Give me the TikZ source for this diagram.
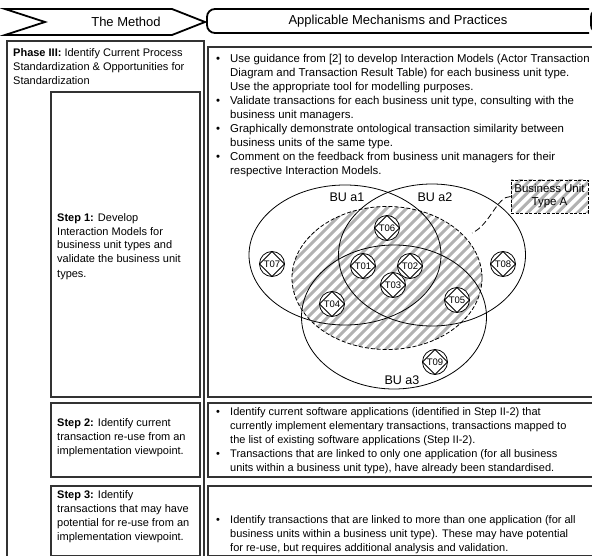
\documentclass[tikz,border=0pt]{standalone}
\usepackage{fontspec}
\setmainfont{Liberation Sans}
\usetikzlibrary{shapes.geometric}
% one left-aligned block of lines, and a block of bulleted lines
\newcommand\txtblock[1]{\begin{tabular}{@{}l@{}}#1\end{tabular}}
\newcommand\bulblock[1]{\begin{tabular}{@{}p{14pt}@{}l@{}}#1\end{tabular}}
\begin{document}
\begin{tikzpicture}[x=1pt,y=-1pt,
  frame/.style={draw=black!80, line width=1.1pt},
  head/.style={draw=black, line width=1.8pt, line join=miter},
  body/.style={font=\fontsize{11}{14}\selectfont, inner sep=0pt, anchor=north west},
  bigbody/.style={body, font=\fontsize{11.4}{14.1}\selectfont},
  headtext/.style={font=\fontsize{13}{15}\selectfont, inner sep=0pt},
  setline/.style={draw=black, line width=0.8pt},
  hatch/.style={draw=black!30, line width=3pt, solid},
  hatched/.style={path picture={
      \foreach \k in {-30,...,30}
        \draw[hatch, shift={(path picture bounding box.center)}] (\k*10-130,130) -- ++(260,-260);}},
  buset/.style={ellipse, setline, inner sep=0pt},
  bulabel/.style={font=\fontsize{12.5}{14}\selectfont, inner sep=0pt},
  tx/.style={circle, draw=black, line width=0.8pt, fill=white, minimum size=25pt,
    inner sep=0pt, font=\fontsize{9.5}{10}\selectfont,
    path picture={\draw[line width=0.8pt] (path picture bounding box.north)
      -- (path picture bounding box.east) -- (path picture bounding box.south)
      -- (path picture bounding box.west) -- cycle;}},
]
\useasboundingbox (0,0) rectangle (592,556);

% ---- header row ----
\draw[head] (5,9) -- (172,9) -- (205,22) -- (172,35) -- (5,35) -- (45,22) -- cycle;
\node[headtext] (method) at (126,22) {The Method};
\draw[head, rounded corners=8pt] (589,9) -- (207,9) -- (207,33) -- (589,33);
\draw[head, rounded corners=8pt] (620,9) -- (591,9) -- (591,33) -- (620,33);
\node[headtext] (practices) at (398,21) {Applicable Mechanisms and Practices};

% ---- left column ----
\draw[frame] (7,41) rectangle (204,562);
\node[body] (phase) at (13,47) {\txtblock{\textbf{Phase III:} Identify Current Process\\
  Standardization \& Opportunities for\\ Standardization}};

\draw[frame] (51,92) rectangle (200,397);
\node[body] (step1) at (57,211) {\txtblock{\textbf{Step 1:} Develop\\
  Interaction Models for\\ business unit types and\\ validate the business unit\\ types.}};

\draw[frame] (51,403) rectangle (200,477);
\node[body] (step2) at (57,416) {\txtblock{\textbf{Step 2:} Identify current\\
  transaction re-use from an\\ implementation viewpoint.}};

\draw[frame] (51,486) rectangle (200,555.5);
\node[body] (step3) at (57,488) {\txtblock{\textbf{Step 3:} Identify\\
  transactions that may have\\ potential for re-use from an\\ implementation viewpoint.}};

% ---- right column ----
\draw[frame] (208,47) rectangle (600,397);
\node[bigbody] (prac1) at (216,52) {\bulblock{%
  \textbullet & Use guidance from [2] to develop Interaction Models (Actor Transaction\\
  & Diagram and Transaction Result Table) for each business unit type.\\
  & Use the appropriate tool for modelling purposes.\\
  \textbullet & Validate transactions for each business unit type, consulting with the\\
  & business unit managers.\\
  \textbullet & Graphically demonstrate ontological transaction similarity between\\
  & business units of the same type.\\
  \textbullet & Comment on the feedback from business unit managers for their\\
  & respective Interaction Models.}};

\draw[frame] (208,403) rectangle (600,477);
\node[body] (prac2) at (216,405) {\bulblock{%
  \textbullet & Identify current software applications (identified in Step II-2) that\\
  & currently implement elementary transactions, transactions mapped to\\
  & the list of existing software applications (Step II-2).\\
  \textbullet & Transactions that are linked to only one application (for all business\\
  & units within a business unit type), have already been standardised.}};

\draw[frame] (208,486) rectangle (600,555.5);
\node[body] (prac3) at (216,513) {\bulblock{%
  \textbullet & Identify transactions that are linked to more than one application (for all\\
  & business units within a business unit type). These may have potential\\
  & for re-use, but requires additional analysis and validation.}};

% ---- business unit sets ----
\node[ellipse, hatched, draw=black, line width=0.8pt, dash pattern=on 4pt off 2pt,
  minimum width=190pt, minimum height=143pt, inner sep=0pt] (typeAset) at (387,278) {};
\node[buset, minimum width=192pt, minimum height=140pt] (bua1) at (345,255) {};
\node[buset, minimum width=187pt, minimum height=142pt] (bua2) at (432,255) {};
\node[buset, minimum width=185pt, minimum height=144pt] (bua3) at (394,317) {};

\node[bulabel] (la1) at (347,197) {BU a1};
\node[bulabel] (la2) at (435,197) {BU a2};
\node[bulabel] (la3) at (402,380) {BU a3};

% legend box for the business unit type
\node[hatched, draw=black, line width=0.8pt, dash pattern=on 3pt off 1.5pt,
  minimum width=77pt, minimum height=33pt, inner sep=0pt, align=center,
  font=\fontsize{11.5}{13}\selectfont] (typeA) at (549.5,196.5) {Business Unit\\ Type A};
\coordinate (tail) at (472,233);
\draw[setline, dash pattern=on 6pt off 3pt] (typeA.west) .. controls (497,196) and (490,225) .. (tail);

% ---- transactions ----
\node[tx] (t06) at (387,228) {T06};
\node[tx] (t07) at (272,264) {T07};
\node[tx] (t01) at (363,266) {T01};
\node[tx] (t02) at (410,266) {T02};
\node[tx] (t08) at (503,264) {T08};
\node[tx] (t03) at (393,285) {T03};
\node[tx] (t04) at (332,304) {T04};
\node[tx] (t05) at (457,300) {T05};
\node[tx] (t09) at (435,362) {T09};
\end{tikzpicture}
\end{document}
